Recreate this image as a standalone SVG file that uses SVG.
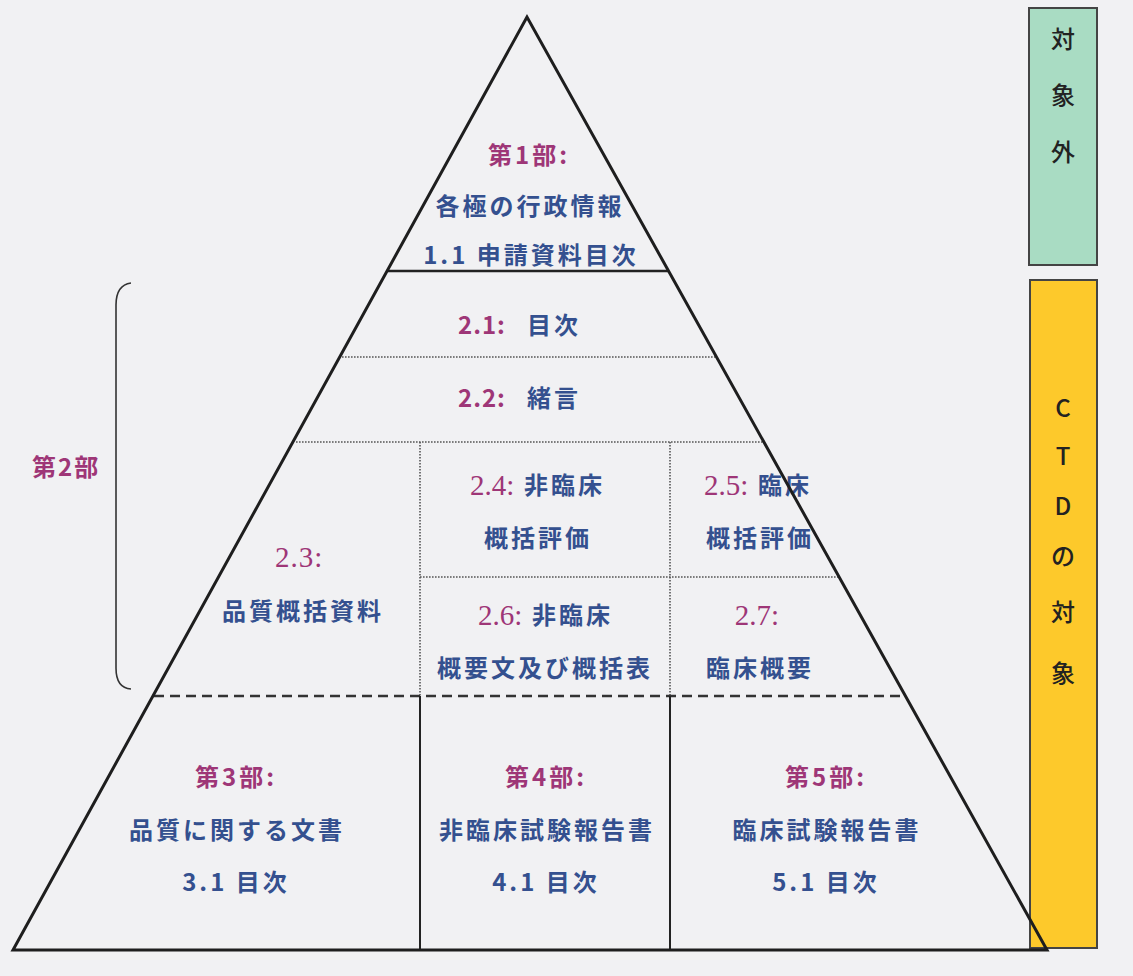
<svg xmlns="http://www.w3.org/2000/svg" width="1133" height="976" viewBox="0 0 1133 976">
<style>
  .t { font-family: "Noto Sans CJK JP", "Liberation Sans", sans-serif; font-size: 24px; font-weight: 700; }
  .m { fill: #9e3677; }
  .b { fill: #34508f; }
  .s { font-family: "Liberation Serif", "Noto Sans CJK JP", serif; font-size: 29px; font-weight: 400; fill: #9e3677; }
  .k { font-family: "Noto Sans CJK JP", "Liberation Sans", sans-serif; font-size: 24px; font-weight: 500; fill: #222; text-anchor: middle; }
  .c { text-anchor: middle; letter-spacing: 3px; }
  .dot { stroke: #555; stroke-width: 1.6; stroke-dasharray: 1.6 1.4; fill: none; }
  .dash { stroke: #333; stroke-width: 2.5; stroke-dasharray: 10 6; fill: none; }
  .solid { stroke: #222; stroke-width: 2; fill: none; }
</style>
<rect x="0" y="0" width="1133" height="976" fill="#f1f1f3"/>

<g id="side-boxes">
  <g id="out-of-scope">
    <rect x="1029" y="8" width="68" height="257" fill="#a9dcc3" stroke="#444" stroke-width="2"/>
    <text class="k" x="1063" y="48">対</text>
    <text class="k" x="1063" y="104">象</text>
    <text class="k" x="1063" y="161">外</text>
  </g>
  <g id="ctd-scope">
    <rect x="1030" y="280" width="67" height="668" fill="#fdc92b" stroke="#444" stroke-width="2"/>
    <text class="k" x="1063" y="417">C</text>
    <text class="k" x="1063" y="465">T</text>
    <text class="k" x="1063" y="515">D</text>
    <text class="k" x="1063" y="565">の</text>
    <text class="k" x="1063" y="621">対</text>
    <text class="k" x="1063" y="682">象</text>
  </g>
</g>

<g id="part1">
  <text class="t m c" x="529" y="164">第1部:</text>
  <text class="t b c" x="530" y="215">各極の行政情報</text>
  <text class="t b c" x="531" y="264">1.1 申請資料目次</text>
</g>

<g id="part2-label">
  <text class="t m" x="32" y="476" style="letter-spacing:2px">第2部</text>
  <path d="M131,283 Q116,285 116,305 L116,668 Q116,688 131,689" fill="none" stroke="#333" stroke-width="1.6"/>
</g>

<g id="s2-1">
  <text class="t m" x="458" y="334" style="letter-spacing:1px">2.1:</text>
  <text class="t b" x="527" y="334" style="letter-spacing:3px">目次</text>
</g>
<g id="s2-2">
  <text class="t m" x="458" y="407" style="letter-spacing:1px">2.2:</text>
  <text class="t b" x="527" y="407" style="letter-spacing:3px">緒言</text>
</g>
<g id="s2-3">
  <text class="s" x="275" y="567" style="letter-spacing:1px">2.3:</text>
  <text class="t b c" x="303" y="620">品質概括資料</text>
</g>
<g id="s2-4">
  <text class="s" x="470" y="495" style="letter-spacing:0px">2.4:</text>
  <text class="t b" x="524" y="494" style="letter-spacing:3px">非臨床</text>
  <text class="t b c" x="538" y="547">概括評価</text>
</g>
<g id="s2-5">
  <text class="s" x="704" y="495" style="letter-spacing:0px">2.5:</text>
  <text class="t b" x="758" y="494" style="letter-spacing:3px">臨床</text>
  <text class="t b c" x="760" y="547">概括評価</text>
</g>
<g id="s2-6">
  <text class="s" x="478" y="625" style="letter-spacing:0px">2.6:</text>
  <text class="t b" x="532" y="624" style="letter-spacing:3px">非臨床</text>
  <text class="t b c" x="545" y="677">概要文及び概括表</text>
</g>
<g id="s2-7">
  <text class="s" x="757" y="625" text-anchor="middle">2.7:</text>
  <text class="t b c" x="760" y="677">臨床概要</text>
</g>

<g id="part3">
  <text class="t m c" x="236" y="786">第3部:</text>
  <text class="t b c" x="237" y="839">品質に関する文書</text>
  <text class="t b c" x="236" y="891">3.1 目次</text>
</g>
<g id="part4">
  <text class="t m c" x="546" y="786">第4部:</text>
  <text class="t b c" x="547" y="839">非臨床試験報告書</text>
  <text class="t b c" x="546" y="891">4.1 目次</text>
</g>
<g id="part5">
  <text class="t m c" x="826" y="786">第5部:</text>
  <text class="t b c" x="827" y="839">臨床試験報告書</text>
  <text class="t b c" x="826" y="891">5.1 目次</text>
</g>

<g id="connectors">
  <line class="dot" x1="342" y1="357" x2="715" y2="357"/>
  <line class="dot" x1="296" y1="442" x2="764" y2="442"/>
  <line class="dot" x1="420" y1="442" x2="420" y2="696"/>
  <line class="dot" x1="670" y1="442" x2="670" y2="696"/>
  <line class="dot" x1="420" y1="577" x2="838" y2="577"/>
  <line class="dash" x1="154" y1="696" x2="905" y2="696"/>
  <line class="solid" x1="420" y1="696" x2="420" y2="950"/>
  <line class="solid" x1="670" y1="696" x2="670" y2="950"/>
  <line x1="388" y1="271" x2="669" y2="271" stroke="#222" stroke-width="2.5"/>
  <polygon points="527,17 13,950 1047,950" fill="none" stroke="#1e1e1e" stroke-width="3" stroke-linejoin="miter"/>
</g>
</svg>
